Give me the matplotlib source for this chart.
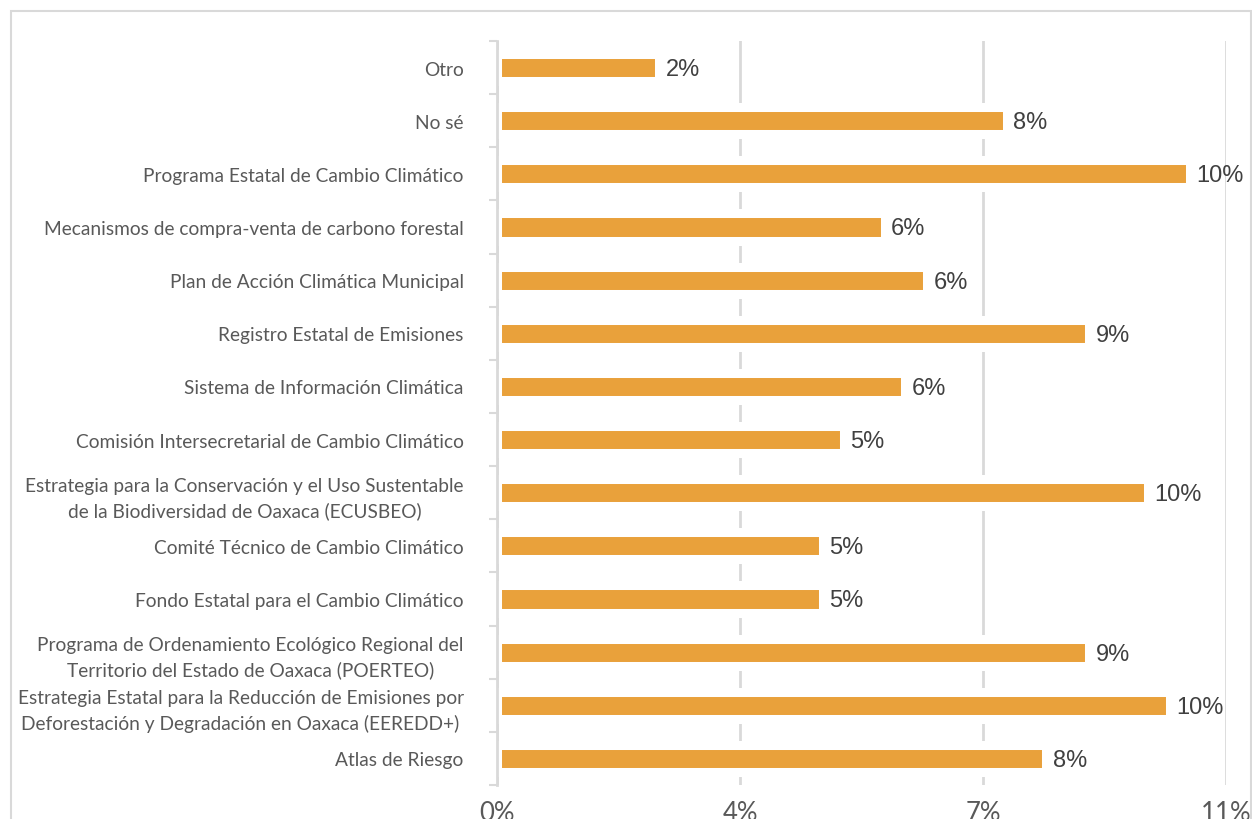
import matplotlib
matplotlib.use("Agg")
import matplotlib.pyplot as plt
from matplotlib.patches import Rectangle
from matplotlib.ticker import FixedLocator

categories = [
    "Otro",
    "No sé",
    "Programa Estatal de Cambio Climático",
    "Mecanismos de compra-venta de carbono forestal",
    "Plan de Acción Climática Municipal",
    "Registro Estatal de Emisiones",
    "Sistema de Información Climática",
    "Comisión Intersecretarial de Cambio Climático",
    "Estrategia para la Conservación y el Uso Sustentable\nde la Biodiversidad de Oaxaca (ECUSBEO)",
    "Comité Técnico de Cambio Climático",
    "Fondo Estatal para el Cambio Climático",
    "Programa de Ordenamiento Ecológico Regional del\nTerritorio del Estado de Oaxaca (POERTEO)",
    "Estrategia Estatal para la Reducción de Emisiones por\nDeforestación y Degradación en Oaxaca (EEREDD+)",
    "Atlas de Riesgo",
]
values = [2.45, 7.69, 10.46, 5.85, 6.49, 8.94, 6.16, 5.24, 9.82, 4.92, 4.92, 8.94, 10.15, 8.29]
x_max = 11.0
x_ticks = [0, x_max / 3, 2 * x_max / 3, x_max]
x_tick_labels = ["0%", "4%", "7%", "11%"]

BAR = "#E9A13B"
GRID = "#D9D9D9"
LABEL = "#595959"
VALUE = "#404040"

fig = plt.figure(figsize=(12.52, 8.20), dpi=100)
fig.patch.set_facecolor("white")
top_px, bot_px = 42, 786
ax = fig.add_axes([497 / 1252, 1 - bot_px / 820, (1226 - 497) / 1252, (bot_px - top_px) / 820])

n = len(categories)
ypos = list(range(n))
ax.barh(ypos, values, height=0.51, color=BAR, edgecolor="white",
        linewidth=6.5, zorder=3)

for y, v in zip(ypos, values):
    ax.annotate(f"{round(v)}%", xy=(v, y), xytext=(4.5, -1), textcoords="offset points",
                ha="left", va="center", fontsize=17, color=VALUE,
                family=["Liberation Sans", "DejaVu Sans"], zorder=5)

ax.set_xlim(0, x_max)
ax.set_ylim(n - 0.5, -0.5)

ax.set_xticks(x_ticks)
ax.set_xticklabels(x_tick_labels)
ax.tick_params(axis="x", length=0, pad=11, labelsize=18.5, labelcolor=LABEL)
for t in ax.get_xticklabels():
    t.set_family(["Lato", "DejaVu Sans"])

ax.set_yticks(ypos)
ax.set_yticklabels(categories)
ax.yaxis.set_minor_locator(FixedLocator([i - 0.5 for i in range(n + 1)]))
ax.tick_params(axis="y", which="major", length=0, pad=24, labelsize=13.75, labelcolor=LABEL)
ax.tick_params(axis="y", which="minor", length=5.5, width=1.5, color=GRID, direction="out")
for t in ax.get_yticklabels():
    t.set_family(["Lato", "DejaVu Sans"])
    t.set_multialignment("center")
    t.set_linespacing(1.5)

ax.grid(axis="x", color=GRID, linewidth=2, zorder=1)
ax.set_axisbelow(True)
for s in ["top", "right", "bottom"]:
    ax.spines[s].set_visible(False)
ax.spines["left"].set_color(GRID)
ax.spines["left"].set_linewidth(2)
ax.spines["left"].set_zorder(4)

fig.patches.append(Rectangle((11 / 1252, -0.1), (1251 - 11) / 1252, 1 - 12 / 820 + 0.1,
                             transform=fig.transFigure, fill=False, edgecolor=GRID,
                             linewidth=1.5, zorder=0))

fig.savefig("out.png", dpi=100, facecolor="white")
